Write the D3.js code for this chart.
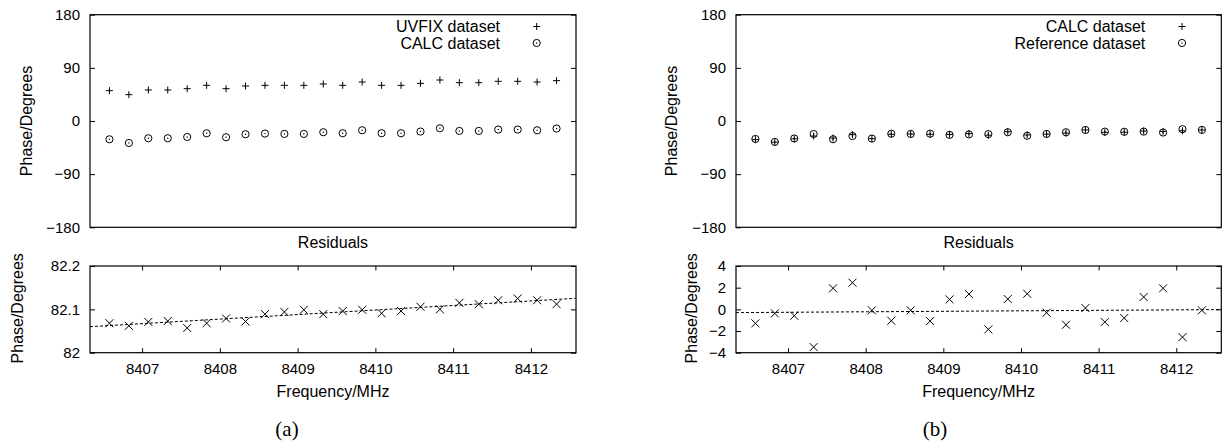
<!DOCTYPE html>
<html>
<head>
<meta charset="utf-8">
<script src="https://cdn.jsdelivr.net/npm/d3@7"></script>
<style>
  html, body { margin: 0; padding: 0; background: #fff; }
  svg { display: block; }
  text { font-family: "Liberation Sans", Arial, Helvetica, sans-serif; fill: #000; }
</style>
</head>
<body>
<svg id="chart" width="1228" height="446"></svg>
<script>
// ---------------- data ----------------
const freq = [8406.58, 8406.83, 8407.08, 8407.33, 8407.58, 8407.83, 8408.08, 8408.33,
              8408.58, 8408.83, 8409.08, 8409.33, 8409.58, 8409.83, 8410.08, 8410.33,
              8410.58, 8410.83, 8411.08, 8411.33, 8411.58, 8411.83, 8412.08, 8412.33];
const freqDomain = [8406.33, 8412.58];

// panel (a)
const uvfixA = [51.4, 44.6, 52.5, 52.5, 54.7, 60.4, 54.7, 59.3, 60.4, 60.4, 60.4, 62.7,
                60.4, 66.0, 60.4, 60.4, 63.8, 69.4, 64.9, 64.9, 67.2, 67.2, 66.0, 68.3];
const calcA  = [-31.0, -37.2, -29.2, -29.2, -27.0, -20.8, -27.5, -22.4, -21.3, -21.9, -21.9, -19.0,
                -20.7, -15.7, -20.7, -20.7, -17.9, -12.3, -16.8, -16.8, -14.5, -14.5, -15.7, -12.8];
const residA = [82.068, 82.062, 82.071, 82.073, 82.057, 82.068, 82.079, 82.072,
                82.089, 82.094, 82.099, 82.089, 82.096, 82.099, 82.091, 82.096,
                82.106, 82.100, 82.115, 82.112, 82.121, 82.125, 82.121, 82.112];
const fitA = [82.060, 82.1255];          // fit line at the two ends of freqDomain

// panel (b)
const calcB = [-31.6, -35.8, -30.2, -25.5, -28.9, -23.1, -29.9, -22.5, -22.0, -22.5, -22.6, -21.3,
               -24.0, -18.1, -23.6, -22.2, -20.5, -15.1, -19.2, -19.0, -16.9, -17.6, -16.5, -15.2];
const refB  = [-30.4, -35.4, -29.6, -22.0, -30.9, -25.5, -29.8, -21.5, -21.9, -21.5, -23.5, -22.7,
               -22.2, -19.1, -25.0, -21.9, -19.1, -15.2, -18.0, -18.2, -18.0, -19.5, -13.9, -15.1];
const residB = [-1.29, -0.37, -0.59, -3.48, 1.94, 2.46, -0.09, -1.05, -0.09, -1.08, 0.92, 1.41,
                -1.85, 0.95, 1.44, -0.31, -1.42, 0.12, -1.17, -0.80, 1.14, 1.94, -2.56, -0.09];
const fitB = [-0.30, -0.02];

// ticks / labels
const phaseTicks = [-180, -90, 0, 90, 180];
const freqTicks = [8407, 8408, 8409, 8410, 8411, 8412];
const residATicks = [82, 82.1, 82.2];
const residATickLabels = ["82", "82.1", "82.2"];
const residBTicks = [-4, -2, 0, 2, 4];
const legendA = ["UVFIX dataset", "CALC dataset"];
const legendB = ["CALC dataset", "Reference dataset"];
const yLabel = "Phase/Degrees";
const xLabel = "Frequency/MHz";
const midTitle = "Residuals";
const captions = ["(a)", "(b)"];

// ---------------- drawing ----------------
const svg = d3.select("#chart");
const FS = 16;      // labels, legend
const TFS = 15;     // tick labels

const plusPath = (x, y, s) => `M${x - s},${y}h${2 * s}M${x},${y - s}v${2 * s}`;
const crossPath = (x, y, s) => `M${x - s},${y - s}L${x + s},${y + s}M${x - s},${y + s}L${x + s},${y - s}`;

function drawPlus(g, pts, s) {
  g.append("g").selectAll("path").data(pts).join("path")
    .attr("d", d => plusPath(d[0], d[1], s))
    .attr("stroke", "#000").attr("stroke-width", 1).attr("fill", "none");
}
function drawCircle(g, pts, r) {
  const gg = g.append("g");
  gg.selectAll("circle.o").data(pts).join("circle").attr("class", "o")
    .attr("cx", d => d[0]).attr("cy", d => d[1]).attr("r", r)
    .attr("stroke", "#000").attr("stroke-width", 1).attr("fill", "none");
  gg.selectAll("circle.d").data(pts).join("circle").attr("class", "d")
    .attr("cx", d => d[0]).attr("cy", d => d[1]).attr("r", 0.7)
    .attr("fill", "#000");
}
function drawCross(g, pts, s) {
  g.append("g").selectAll("path").data(pts).join("path")
    .attr("d", d => crossPath(d[0], d[1], s))
    .attr("stroke", "#000").attr("stroke-width", 1).attr("fill", "none");
}

function styleAxis(sel) {
  sel.select(".domain").remove();
  sel.selectAll(".tick line").attr("stroke", "#000").attr("stroke-width", 1);
  sel.selectAll(".tick text").attr("font-size", TFS).attr("font-family", "Liberation Sans, Arial, sans-serif").attr("fill", "#000");
}

function frame(g, w, h) {
  g.append("rect").attr("x", 0).attr("y", 0).attr("width", w).attr("height", h)
    .attr("fill", "none").attr("stroke", "#000").attr("stroke-width", 1.2);
}

function yAxes(g, y, w, ticks, labels) {
  const left = d3.axisLeft(y).tickValues(ticks).tickSize(-5).tickPadding(10);
  if (labels) left.tickFormat((d, i) => labels[i]);
  else left.tickFormat(d3.format("d"));
  g.append("g").call(left).call(styleAxis);
  g.append("g").attr("transform", `translate(${w},0)`)
    .call(d3.axisRight(y).tickValues(ticks).tickSize(-5).tickFormat(""))
    .call(styleAxis);
}

function xAxes(g, x, h) {
  g.append("g").attr("transform", `translate(0,${h})`)
    .call(d3.axisBottom(x).tickValues(freqTicks).tickSize(-4.5).tickPadding(11).tickFormat(d3.format("d")))
    .call(styleAxis);
  g.append("g")
    .call(d3.axisTop(x).tickValues(freqTicks).tickSize(-4.5).tickFormat(""))
    .call(styleAxis);
}

function rotLabel(cx, cy, txt) {
  svg.append("text").attr("transform", `translate(${cx},${cy}) rotate(-90)`)
    .attr("text-anchor", "middle").attr("dy", "0.35em").attr("font-size", FS).text(txt);
}

function buildPanel(opt) {
  const { left, right, topTop, topBottom, botTop, botBottom } = opt;
  const w = right - left;
  const x = d3.scaleLinear().domain(freqDomain).range([0, w]);

  // ---- top plot ----
  const hT = topBottom - topTop;
  const yT = d3.scaleLinear().domain([-180, 180]).range([hT, 0]);
  const gT = svg.append("g").attr("transform", `translate(${left},${topTop})`);
  yAxes(gT, yT, w, phaseTicks, null);

  const plusPts = freq.map((f, i) => [x(f), yT(opt.plusVals[i])]);
  const circPts = freq.map((f, i) => [x(f), yT(opt.circVals[i])]);
  drawPlus(gT, plusPts, 3.5);
  drawCircle(gT, circPts, 3.6);

  // legend
  const lx = w - 76, mx = w - 39.3;
  const ly = [26.5 - topTop, 43 - topTop];
  opt.legend.forEach((t, i) => {
    gT.append("text").attr("x", lx).attr("y", ly[i]).attr("dy", "0.35em")
      .attr("text-anchor", "end").attr("font-size", FS).text(t);
  });
  drawPlus(gT, [[mx, ly[0]]], 3.5);
  drawCircle(gT, [[mx, ly[1]]], 3.6);
  frame(gT, w, hT);

  // ---- residual plot ----
  const hB = botBottom - botTop;
  const yB = d3.scaleLinear().domain(opt.resDomain).range([hB, 0]);
  const gB = svg.append("g").attr("transform", `translate(${left},${botTop})`);
  yAxes(gB, yB, w, opt.resTicks, opt.resTickLabels);
  xAxes(gB, x, hB);

  gB.append("line")
    .attr("x1", x(freqDomain[0])).attr("y1", yB(opt.fit[0]))
    .attr("x2", x(freqDomain[1])).attr("y2", yB(opt.fit[1]))
    .attr("stroke", "#000").attr("stroke-width", 1).attr("stroke-dasharray", "3,2");
  drawCross(gB, freq.map((f, i) => [x(f), yB(opt.resVals[i])]), 4);
  frame(gB, w, hB);

  // titles
  const cx = left + w / 2;
  svg.append("text").attr("x", cx).attr("y", 247.5).attr("text-anchor", "middle")
    .attr("font-size", FS).text(midTitle);
  svg.append("text").attr("x", cx).attr("y", 397).attr("text-anchor", "middle")
    .attr("font-size", FS).text(xLabel);
  rotLabel(opt.yLabTopX, (topTop + topBottom) / 2, yLabel);
  rotLabel(opt.yLabBotX, 308.3, yLabel);
  svg.append("text").attr("x", opt.capX).attr("y", 436).attr("text-anchor", "middle")
    .attr("font-size", 21).style("font-family", "Liberation Serif, Times New Roman, serif")
    .text(opt.caption);
}

buildPanel({
  left: 90, right: 576, topTop: 14.7, topBottom: 227.3, botTop: 266, botBottom: 352.7,
  plusVals: uvfixA, circVals: calcA, legend: legendA,
  resDomain: [82, 82.2], resTicks: residATicks, resTickLabels: residATickLabels,
  resVals: residA, fit: fitA,
  yLabTopX: 26.7, yLabBotX: 17.5, capX: 287, caption: captions[0]
});

buildPanel({
  left: 736, right: 1221.3, topTop: 14.7, topBottom: 227.3, botTop: 266, botBottom: 352.7,
  plusVals: calcB, circVals: refB, legend: legendB,
  resDomain: [-4, 4], resTicks: residBTicks, resTickLabels: null,
  resVals: residB, fit: fitB,
  yLabTopX: 671.5, yLabBotX: 691.5, capX: 935, caption: captions[1]
});
</script>
</body>
</html>
